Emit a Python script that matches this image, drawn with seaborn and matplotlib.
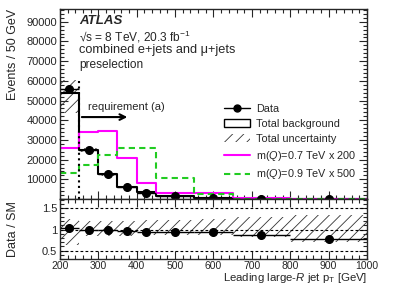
import numpy as np
import pandas as pd
import seaborn as sns
import matplotlib.pyplot as plt
from matplotlib.patches import Patch
from matplotlib.lines import Line2D
from matplotlib.ticker import MultipleLocator

sns.set_style('ticks')
plt.rcParams['font.family'] = ['Liberation Sans', 'DejaVu Sans']
plt.rcParams['mathtext.fontset'] = 'custom'
plt.rcParams['mathtext.rm'] = 'Liberation Sans'
plt.rcParams['mathtext.it'] = 'Liberation Sans:italic'
plt.rcParams['hatch.linewidth'] = 0.6

# leading large-R jet pT bins (GeV), events per 50 GeV
edges = [200, 250, 300, 350, 400, 450, 550, 650, 800, 1000]
data = [55800, 25000, 12600, 6300, 3300, 1300, 480, 180, 70]
background = [53800, 24900, 12500, 6250, 3400, 1350, 510, 210, 90]
bkg_up = [60400, 26000, 13100, 6600, 3600, 1450, 560, 250, 110]
bkg_down = [43500, 23800, 11900, 5900, 3200, 1250, 460, 170, 70]
sig_07 = [26000, 33800, 34500, 21000, 8300, 2900, 2900, 300, 100]
sig_09 = [13400, 17300, 22300, 25700, 25700, 10700, 2400, 200, 80]

# ratio panel
ratio = [1.03, 1.0, 0.99, 0.97, 0.93, 0.95, 0.94, 0.86, 0.78]
ratio_up = [1.24, 1.19, 1.19, 1.19, 1.22, 1.22, 1.24, 1.30, 1.34]
ratio_down = [0.64, 0.85, 0.85, 0.85, 0.86, 0.86, 0.86, 0.82, 0.70]

edges_a = np.array(edges)
centers = (edges_a[:-1] + edges_a[1:]) / 2
halfw = (edges_a[1:] - edges_a[:-1]) / 2
widths = edges_a[1:] - edges_a[:-1]

hists = pd.DataFrame({'pt': centers, 'background': background,
                      'sig_07': sig_07, 'sig_09': sig_09})

fig = plt.figure(figsize=(3.99, 2.86), dpi=100)
ax = fig.add_axes([0.150, 0.304, 0.770, 0.665])
axr = fig.add_axes([0.150, 0.094, 0.770, 0.210], sharex=ax)

# main panel
ax.bar(edges_a[:-1], np.array(bkg_up) - np.array(bkg_down), bottom=bkg_down,
       width=widths, align='edge', fill=False, hatch='///', linewidth=0,
       edgecolor='#333333')
sns.histplot(hists, x='pt', weights='background', bins=edges, element='step',
             fill=False, color='black', linewidth=1.5, ax=ax)
sns.histplot(hists, x='pt', weights='sig_07', bins=edges, element='step',
             fill=False, color='#ff00ff', linewidth=1.5, ax=ax)
sns.histplot(hists, x='pt', weights='sig_09', bins=edges, element='step',
             fill=False, color='#22cc22', linewidth=1.5, linestyle=(0, (3, 2)), ax=ax)
ax.errorbar(centers, data, xerr=halfw, fmt='o', color='black', ms=5.5,
            lw=1.0, capsize=0)

ax.plot([250, 250], [0, 61000], color='black', ls=':', lw=1.5)
ax.annotate('', xy=(383, 41600), xytext=(250, 41600),
            arrowprops=dict(arrowstyle='->', lw=1.5, color='black',
                            mutation_scale=10))
ax.text(272, 44000, 'requirement (a)', fontsize=8, va='bottom')

ax.text(0.062, 0.935, 'ATLAS', transform=ax.transAxes, fontsize=9.5,
        fontweight='bold', fontstyle='italic', va='center')
ax.text(0.062, 0.853, '√s = 8 TeV, 20.3 fb$^{-1}$', transform=ax.transAxes,
        fontsize=8.6, va='center')
ax.text(0.062, 0.782, 'combined e+jets and μ+jets', transform=ax.transAxes,
        fontsize=9.2, va='center')
ax.text(0.062, 0.705, 'preselection', transform=ax.transAxes,
        fontsize=8.6, va='center')

handles = [
    Line2D([], [], color='black', marker='o', ms=5, lw=1.0),
    Patch(facecolor='white', edgecolor='black', linewidth=1.0),
    Patch(facecolor='white', edgecolor='#333333', hatch='///', linewidth=0),
    Line2D([], [], color='#ff00ff', lw=1.5),
    Line2D([], [], color='#22cc22', lw=1.5, ls=(0, (3, 2))),
]
labels = ['Data', 'Total background', 'Total uncertainty',
          'm($Q$)=0.7 TeV x 200', 'm($Q$)=0.9 TeV x 500']
ax.legend(handles, labels, loc='upper left', bbox_to_anchor=(0.534, 0.5),
          frameon=False, fontsize=7.8, handlelength=2.4, labelspacing=0.45,
          borderaxespad=0, handletextpad=0.6, borderpad=0)

ax.set_xlim(200, 1000)
ax.set_ylim(0, 96500)
ax.set_ylabel('Events / 50 GeV', fontsize=9, loc='top')
ax.set_xlabel('')
ax.yaxis.set_major_locator(MultipleLocator(10000))
ax.yaxis.set_minor_locator(MultipleLocator(2000))
ax.set_yticks([10000, 20000, 30000, 40000, 50000, 60000, 70000, 80000, 90000])
ax.tick_params(labelbottom=False)

# ratio panel
axr.bar(edges_a[:-1], np.array(ratio_up) - np.array(ratio_down), bottom=ratio_down,
        width=widths, align='edge', fill=False, hatch='///', linewidth=0,
        edgecolor='#333333')
for yv in [0.5, 1.0, 1.5]:
    axr.axhline(yv, color='black', ls=(0, (2.5, 2)), lw=0.8)
axr.errorbar(centers, ratio, xerr=halfw, fmt='o', color='black', ms=5.5,
             lw=1.0, capsize=0)
axr.set_ylim(0.3, 1.72)
axr.set_yticks([0.5, 1, 1.5])
axr.set_yticklabels(['0.5', '1', '1.5'])
axr.yaxis.set_minor_locator(MultipleLocator(0.1))
axr.set_xticks([200, 300, 400, 500, 600, 700, 800, 900, 1000])
axr.xaxis.set_minor_locator(MultipleLocator(20))
axr.set_ylabel('Data / SM', fontsize=9)
axr.set_xlabel('Leading large-$R$ jet p$_{\\mathrm{T}}$ [GeV]', fontsize=8.2,
               ha='right')

for a in (ax, axr):
    a.tick_params(which='both', direction='in', top=True, right=True,
                  labelsize=8, width=0.8, pad=2)
    a.tick_params(which='major', length=6)
    a.tick_params(which='minor', length=3)
    for s in a.spines.values():
        s.set_linewidth(1.0)
axr.tick_params(axis='x', labelsize=7.5, pad=1.5)
ax.yaxis.set_label_coords(-0.132, 1.0)
axr.yaxis.set_label_coords(-0.132, 0.5)
axr.xaxis.set_label_coords(1.0, -0.205)

fig.savefig('out.png', dpi=100)
